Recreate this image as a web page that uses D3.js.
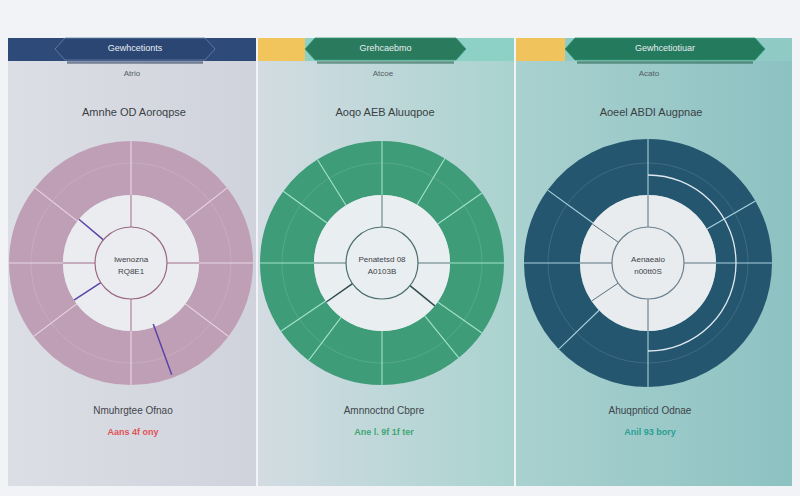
<!DOCTYPE html>
<html>
<head>
<meta charset="utf-8">
<script src="https://cdn.jsdelivr.net/npm/d3@7"></script>
<style>
  body { margin: 0; background: #f2f3f6; }
  svg { display: block; font-family: "Liberation Sans", Arial, sans-serif; }
</style>
</head>
<body>
<div id="chart"></div>
<script>
var width = 800;
var height = 496;

// data
var headerLabels = ["Gewhcetionts", "Grehcaebmo", "Gewhcetiotiuar"];
var subLabels = ["Atrio", "Atcoe", "Acato"];
var titles = ["Amnhe OD Aoroqpse", "Aoqo AEB Aluuqpoe", "Aoeel ABDI Augpnae"];
var centerTop = ["Iwenozna", "Penatetsd 08", "Aenaeaio"];
var centerBottom = ["RQ8E1", "A0103B", "n00tt0S"];
var footLabels = ["Nmuhrgtee Ofnao", "Amnnoctnd Cbpre", "Ahuqpnticd Odnae"];
var footValues = ["Aans 4f ony", "Ane l. 9f 1f ter", "Anil 93 bory"];

// segment sizes in degrees, clockwise from the top
var outer1 = [52, 38, 37, 53, 53, 37, 38, 52];
var outer2 = [31, 24, 35, 35, 16, 39, 37, 19, 34, 36, 22, 32];
var outer3 = [60, 30, 90, 46, 44, 36, 54];
var inner1 = [90, 90, 57, 33, 40, 50];
var inner2 = [90, 39, 106, 35, 90];
var inner3 = [90, 90, 56, 34, 35, 55];
// highlighted lines: angle, ring
var accents1 = [{a: 310, ring: "inner"}, {a: 237, ring: "inner"}, {a: 160, ring: "outer"}];
var accents2 = [{a: 129, ring: "inner"}, {a: 235, ring: "inner"}];
var accents3 = [];
// extra arc in the ring (degrees)
var arcs3 = [[0, 180]];

var panels = [
  {x: 8, w: 248, cx: 131, r: 122, outer: outer1, inner: inner1, accents: accents1, arcs: [],
   bg: ["#dcdee5", "#d0d3dc"], head: "#2d4a78", strip: null, hexX: 55, hexW: 160, hexFill: "#2b4673",
   ring: "#bf9fb6", disc: "#ebecf0", sepOuter: "#ead6e3", sepInner: "#a06f8b", accent: "#5a44a8", core: "#9a6884",
   footColor: "#e05259"},
  {x: 258, w: 256, cx: 382, r: 122, outer: outer2, inner: inner2, accents: accents2, arcs: [],
   bg: ["#d3dce2", "#a9d3cf"], head: "#8dd1c6", strip: "#f2c55c", stripW: 47, hexX: 305, hexW: 161, hexFill: "#2a7b5d",
   ring: "#3e9c79", disc: "#e9eef1", sepOuter: "#9fe2c9", sepInner: "#577a7a", accent: "#2f4b4e", core: "#4f6f70",
   footColor: "#3ea676"},
  {x: 516, w: 276, cx: 648, r: 124, outer: outer3, inner: inner3, accents: accents3, arcs: arcs3,
   bg: ["#a9d1cf", "#8dc2c2"], head: "#8fcac5", strip: "#f0c35c", stripW: 49, hexX: 565, hexW: 200, hexFill: "#247a5c",
   ring: "#24566f", disc: "#e8ecef", sepOuter: "#a8d0df", sepInner: "#5f7280", accent: "#2f4b4e", core: "#6e8290",
   footColor: "#2a9f93"}
];

var cy = 263;
var discR = 68;
var coreR = 36;

var svg = d3.select("#chart").append("svg")
  .attr("width", width)
  .attr("height", height);

var defs = svg.append("defs");
var rad = Math.PI / 180;
var pie = d3.pie().sort(null).value(function(d) { return d; });

panels.forEach(function(p, i) {
  var grad = defs.append("linearGradient").attr("id", "bg" + i)
    .attr("x1", "0%").attr("x2", "100%").attr("y1", "0%").attr("y2", "0%");
  grad.append("stop").attr("offset", "0%").attr("stop-color", p.bg[0]);
  grad.append("stop").attr("offset", "100%").attr("stop-color", p.bg[1]);

  var g = svg.append("g");

  // panel body
  g.append("rect").attr("x", p.x).attr("y", 38).attr("width", p.w).attr("height", 448)
    .attr("fill", "url(#bg" + i + ")");

  // header bar
  g.append("rect").attr("x", p.x).attr("y", 38).attr("width", p.w).attr("height", 23).attr("fill", p.head);
  if (p.strip) {
    g.append("rect").attr("x", p.x).attr("y", 38).attr("width", p.stripW).attr("height", 23).attr("fill", p.strip);
  }
  var hx = p.hexX, hw = p.hexW, tip = 10;
  g.append("path")
    .attr("d", "M" + (hx + tip + 2) + ",62.5 L" + (hx + hw - tip - 2) + ",62.5")
    .attr("stroke", d3.color(p.hexFill).darker(0.8)).attr("stroke-width", 2.5).attr("opacity", 0.55);
  g.append("path")
    .attr("d", "M" + hx + ",49 L" + (hx + tip) + ",38 L" + (hx + hw - tip) + ",38 L" + (hx + hw) + ",49 L" +
      (hx + hw - tip) + ",60 L" + (hx + tip) + ",60 Z")
    .attr("fill", p.hexFill)
    .attr("stroke", i === 0 ? "#6b83ab" : d3.color(p.hexFill).brighter(0.6))
    .attr("stroke-width", 0.8);
  g.append("text").attr("x", hx + hw / 2).attr("y", 50.5)
    .attr("text-anchor", "middle").attr("font-size", 9).attr("fill", "#e8eef2")
    .text(headerLabels[i]);

  // subtitle and title
  g.append("text").attr("x", p.cx + 1).attr("y", 76).attr("text-anchor", "middle")
    .attr("font-size", 8).attr("fill", "#555c63").text(subLabels[i]);
  g.append("text").attr("x", p.cx + 3).attr("y", 116).attr("text-anchor", "middle")
    .attr("font-size", 11).attr("fill", "#3a3f45").text(titles[i]);

  // donut
  var c = g.append("g").attr("transform", "translate(" + p.cx + "," + cy + ")");
  var ringArc = d3.arc().innerRadius(discR).outerRadius(p.r);
  var outerSlices = pie(p.outer);
  c.selectAll("path.seg").data(outerSlices).enter().append("path")
    .attr("class", "seg").attr("d", ringArc).attr("fill", p.ring);

  // faint inner ring line
  c.append("circle").attr("r", 100).attr("fill", "none")
    .attr("stroke", "#ffffff").attr("stroke-opacity", 0.12).attr("stroke-width", 1);

  var discArc = d3.arc().innerRadius(coreR).outerRadius(discR);
  var innerSlices = pie(p.inner);
  c.selectAll("path.in").data(innerSlices).enter().append("path")
    .attr("class", "in").attr("d", discArc).attr("fill", p.disc);

  // separators
  c.selectAll("line.so").data(outerSlices).enter().append("line")
    .attr("class", "so")
    .attr("x1", function(d) { return d3.pointRadial(d.startAngle, discR)[0]; })
    .attr("y1", function(d) { return d3.pointRadial(d.startAngle, discR)[1]; })
    .attr("x2", function(d) { return d3.pointRadial(d.startAngle, p.r)[0]; })
    .attr("y2", function(d) { return d3.pointRadial(d.startAngle, p.r)[1]; })
    .attr("stroke", p.sepOuter).attr("stroke-width", 1.1);

  var accentSet = p.accents.filter(function(a) { return a.ring === "inner"; })
    .map(function(a) { return a.a; });
  c.selectAll("line.si").data(innerSlices.filter(function(d) {
      return accentSet.indexOf(Math.round(d.startAngle / rad)) < 0;
    })).enter().append("line")
    .attr("class", "si")
    .attr("x1", function(d) { return d3.pointRadial(d.startAngle, coreR)[0]; })
    .attr("y1", function(d) { return d3.pointRadial(d.startAngle, coreR)[1]; })
    .attr("x2", function(d) { return d3.pointRadial(d.startAngle, discR)[0]; })
    .attr("y2", function(d) { return d3.pointRadial(d.startAngle, discR)[1]; })
    .attr("stroke", p.sepInner).attr("stroke-width", 1);

  c.selectAll("line.acc").data(p.accents).enter().append("line")
    .attr("class", "acc")
    .attr("x1", function(d) { return d3.pointRadial(d.a * rad, d.ring === "inner" ? coreR : discR - 3)[0]; })
    .attr("y1", function(d) { return d3.pointRadial(d.a * rad, d.ring === "inner" ? coreR : discR - 3)[1]; })
    .attr("x2", function(d) { return d3.pointRadial(d.a * rad, d.ring === "inner" ? discR : p.r - 3)[0]; })
    .attr("y2", function(d) { return d3.pointRadial(d.a * rad, d.ring === "inner" ? discR : p.r - 3)[1]; })
    .attr("stroke", p.accent).attr("stroke-width", 1.5);

  var extraArc = d3.arc().innerRadius(88).outerRadius(88);
  c.selectAll("path.extra").data(p.arcs).enter().append("path")
    .attr("class", "extra")
    .attr("d", function(d) { return extraArc({startAngle: d[0] * rad, endAngle: d[1] * rad}); })
    .attr("fill", "none").attr("stroke", "#dfe8ee").attr("stroke-width", 1.3);

  // core
  c.append("circle").attr("r", coreR).attr("fill", p.disc)
    .attr("stroke", p.core).attr("stroke-width", 1.2);
  c.append("text").attr("y", -1).attr("text-anchor", "middle")
    .attr("font-size", 8).attr("fill", "#3c4248").text(centerTop[i]);
  c.append("text").attr("y", 11).attr("text-anchor", "middle")
    .attr("font-size", 8).attr("fill", "#3c4248").text(centerBottom[i]);

  // footer
  g.append("text").attr("x", p.cx + 2).attr("y", 414).attr("text-anchor", "middle")
    .attr("font-size", 10).attr("fill", "#3f454b").text(footLabels[i]);
  g.append("text").attr("x", p.cx + 2).attr("y", 435).attr("text-anchor", "middle")
    .attr("font-size", 9).attr("font-weight", "bold").attr("fill", p.footColor).text(footValues[i]);
});
</script>
</body>
</html>
